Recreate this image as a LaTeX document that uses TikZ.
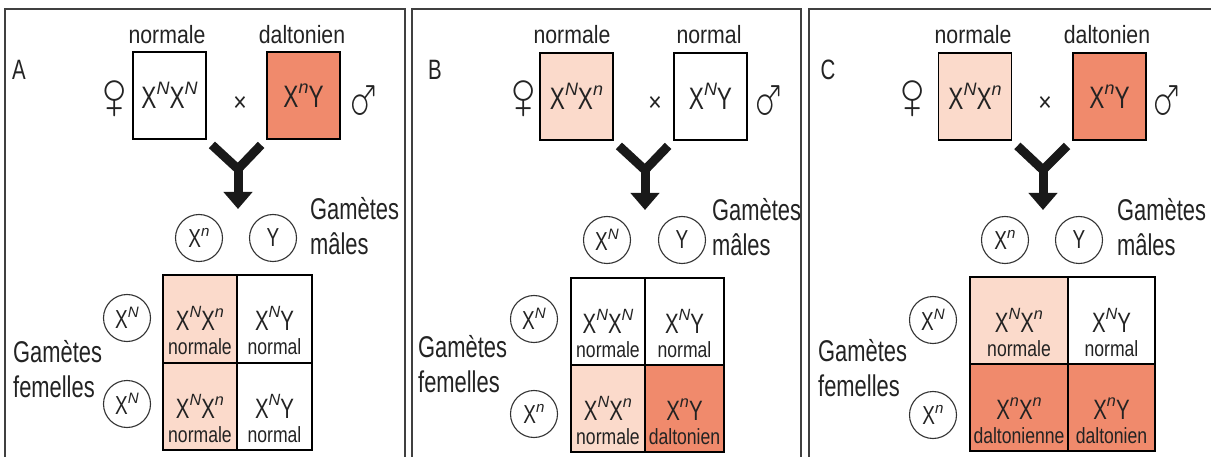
\documentclass[tikz,border=0pt]{standalone}
\usepackage{fontspec}
\usepackage{graphicx}
\usepackage{wasysym}
\setmainfont{Liberation Sans}[FakeStretch=0.73]
\newfontfamily\titlefont{Liberation Sans}[FakeStretch=0.85]
\newfontfamily\phenfont{Liberation Sans}[FakeStretch=0.8]
\newfontfamily\supfont{Liberation Sans}
\usetikzlibrary{arrows.meta,calc}

\definecolor{dalt}{RGB}{240,138,108}
\definecolor{porteuse}{RGB}{251,218,203}
\definecolor{ink}{RGB}{35,35,35}

% allele written as a raised italic exponent
\newcommand\al[1]{\raisebox{0.44em}{\scalebox{0.58}{\supfont\itshape #1}}}

\tikzset{
  frame/.style={draw=black!75, line width=1.3pt},
  parent/.style={draw=black, line width=1.8pt, minimum width=73pt, minimum height=87pt,
    inner sep=0pt, text=ink, font=\fontsize{31}{31}\selectfont},
  ptitle/.style={anchor=base, inner sep=0pt, text=ink, font=\titlefont\fontsize{25}{25}\selectfont},
  gam/.style={circle, draw=black!80, line width=1.1pt, minimum size=47pt, inner sep=0pt,
    text=ink, font=\fontsize{26}{26}\selectfont},
  lbl/.style={anchor=base west, inner sep=0pt, text=ink, font=\fontsize{30}{30}\selectfont},
  panel/.style={anchor=center, inner sep=0pt, text=ink, font=\fontsize{28}{28}\selectfont},
  cellbox/.style={draw=black, line width=1.8pt, inner sep=0pt},
  geno/.style={anchor=base, inner sep=0pt, text=ink, font=\fontsize{28}{28}\selectfont},
  phen/.style={anchor=base, inner sep=0pt, text=ink, font=\phenfont\fontsize{22}{22}\selectfont},
  sex/.style={inner sep=0pt, text=ink},
  cross/.style={inner sep=0pt, text=ink, font=\titlefont\fontsize{27}{27}\selectfont},
  fork/.style={draw=black!90, line width=9pt, line join=miter},
  forkarrow/.style={draw=black!90, line width=9pt, -{Triangle[width=28pt,length=17pt]}},
}

\newcommand\fem{\scalebox{4.5}[4.8]{\female}}
\newcommand\mal{\scalebox{3.6}[4.8]{\male}}

% Punnett cell: name, x1, y1, x2, y2, fill, genotype, phenotype
\newcommand\pcell[8]{%
  \node[cellbox, fill=#6, minimum width={(#4)-(#2)}, minimum height={(#5)-(#3)}]
    (#1) at ({((#2)+(#4))/2},{((#3)+(#5))/2}) {};
  \node[geno] (#1g) at ($(#1.north)+(0,56)$) {#7};
  \node[phen] (#1p) at ($(#1.north)+(0,80)$) {#8};
}

\begin{document}
\begin{tikzpicture}[x=1pt, y=-1pt]
\useasboundingbox (0,0) rectangle (1211,457);
\fill[white] (0,0) rectangle (1211,457);

% ---------------- panel frames
\draw[frame] (5,462) -- (5,9) -- (405,9) -- (405,462);
\draw[frame] (412,462) -- (412,9) -- (801,9) -- (801,462);
\draw[frame] (809,462) -- (809,9) -- (1215,9);

% ================= A
\node[panel] (labA) at (19,70) {A};
\node[parent, fill=white] (a1) at (169.5,95.5) {X\al{N}X\al{N}};
\node[parent, fill=dalt] (a2) at (303.5,95.5) {X\al{n}Y};
\node[ptitle] (a1t) at (167,44) {normale};
\node[ptitle] (a2t) at (302,44) {daltonien};
\node[sex] (fA) at (115,98) {\fem};
\node[cross] (xA) at (240,104) {×};
\node[sex] (mA) at (365,99) {\mal};
\coordinate (jA) at (238,169);
\coordinate (tA) at (238,209);
\draw[fork] ($(a1.south east)+(5,5)$) -- (jA) -- ($(a2.south west)+(-5,5)$);
\draw[forkarrow] (jA) -- (tA);
\node[gam] (gmA1) at (199,238) {X\al{n}};
\node[gam] (gmA2) at (273,238) {Y};
\node[lbl] (lmA1) at (310,220) {Gamètes};
\node[lbl] (lmA2) at (310,255) {mâles};
\node[gam] (gfA1) at (127,318) {X\al{N}};
\node[gam] (gfA2) at (127,404) {X\al{N}};
\node[lbl] (lfA1) at (13,362) {Gamètes};
\node[lbl] (lfA2) at (13,397) {femelles};
\pcell{cA11}{163}{275}{237}{363}{porteuse}{X\al{N}X\al{n}}{normale}
\pcell{cA12}{237}{275}{312}{363}{white}{X\al{N}Y}{normal}
\pcell{cA21}{163}{363}{237}{450}{porteuse}{X\al{N}X\al{n}}{normale}
\pcell{cA22}{237}{363}{312}{450}{white}{X\al{N}Y}{normal}

% ================= B
\node[panel] (labB) at (435,70) {B};
\node[parent, fill=porteuse] (b1) at (576.5,96.5) {X\al{N}X\al{n}};
\node[parent, fill=white] (b2) at (710.5,96.5) {X\al{N}Y};
\node[ptitle] (b1t) at (572,44) {normale};
\node[ptitle] (b2t) at (709,44) {normal};
\node[sex] (fB) at (524,98) {\fem};
\node[cross] (xB) at (655,104) {×};
\node[sex] (mB) at (770,99) {\mal};
\coordinate (jB) at (645,170);
\coordinate (tB) at (645,210);
\draw[fork] ($(b1.south east)+(5,5)$) -- (jB) -- ($(b2.south west)+(-5,5)$);
\draw[forkarrow] (jB) -- (tB);
\node[gam] (gmB1) at (607,240) {X\al{N}};
\node[gam] (gmB2) at (682,240) {Y};
\node[lbl] (lmB1) at (712,221) {Gamètes};
\node[lbl] (lmB2) at (712,256) {mâles};
\node[gam] (gfB1) at (534,319) {X\al{N}};
\node[gam] (gfB2) at (534,414) {X\al{n}};
\node[lbl] (lfB1) at (418,357) {Gamètes};
\node[lbl] (lfB2) at (418,392) {femelles};
\pcell{cB11}{571}{278}{645}{365}{white}{X\al{N}X\al{N}}{normale}
\pcell{cB12}{645}{278}{724}{365}{white}{X\al{N}Y}{normal}
\pcell{cB21}{571}{365}{645}{452}{porteuse}{X\al{N}X\al{n}}{normale}
\pcell{cB22}{645}{365}{724}{452}{dalt}{X\al{n}Y}{daltonien}

% ================= C
\node[panel] (labC) at (828,70) {C};
\node[parent, fill=porteuse] (c1) at (975,96.5) {X\al{N}X\al{n}};
\node[parent, fill=dalt] (c2) at (1109.5,96.5) {X\al{n}Y};
\node[ptitle] (c1t) at (973,44) {normale};
\node[ptitle] (c2t) at (1107,44) {daltonien};
\node[sex] (fC) at (913,98) {\fem};
\node[cross] (xC) at (1045,104) {×};
\node[sex] (mC) at (1168,99) {\mal};
\coordinate (jC) at (1043,170);
\coordinate (tC) at (1043,210);
\draw[fork] ($(c1.south east)+(5,5)$) -- (jC) -- ($(c2.south west)+(-5,5)$);
\draw[forkarrow] (jC) -- (tC);
\node[gam] (gmC1) at (1005,240) {X\al{n}};
\node[gam] (gmC2) at (1079,240) {Y};
\node[lbl] (lmC1) at (1117,221) {Gamètes};
\node[lbl] (lmC2) at (1117,256) {mâles};
\node[gam] (gfC1) at (933,320) {X\al{N}};
\node[gam] (gfC2) at (933,415) {X\al{n}};
\node[lbl] (lfC1) at (818,361) {Gamètes};
\node[lbl] (lfC2) at (818,396) {femelles};
\pcell{cC11}{970}{277}{1068}{364}{porteuse}{X\al{N}X\al{n}}{normale}
\pcell{cC12}{1068}{277}{1155}{364}{white}{X\al{N}Y}{normal}
\pcell{cC21}{970}{364}{1068}{451}{dalt}{X\al{n}X\al{n}}{daltonienne}
\pcell{cC22}{1068}{364}{1155}{451}{dalt}{X\al{n}Y}{daltonien}
\end{tikzpicture}
\end{document}
